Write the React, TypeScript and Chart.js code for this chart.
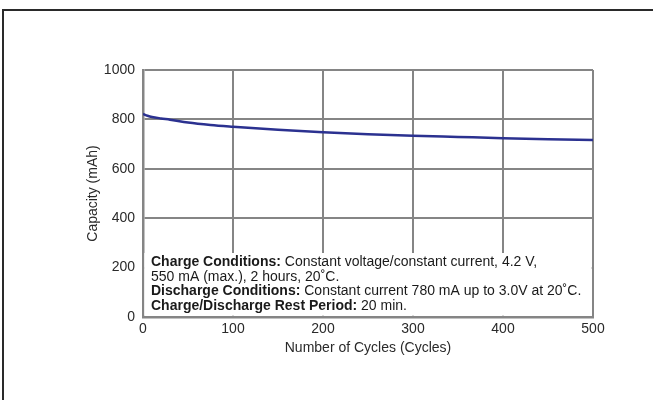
import React, { useEffect, useRef } from "react";
import { Chart, registerables } from "chart.js";

Chart.register(...registerables);

const cycles = [0, 5, 10, 20, 30, 50, 75, 100, 150, 200, 250, 300, 350, 400, 450, 500];
const capacity = [822, 815, 810, 804, 799, 787, 777, 770, 758, 748, 740, 734, 729, 724, 720, 717];
const yTicks = [0, 200, 400, 600, 800, 1000];
const xTicks = [0, 100, 200, 300, 400, 500];

const noteLines: { bold: string; normal: string }[] = [
  { bold: "Charge Conditions:", normal: " Constant voltage/constant current, 4.2 V," },
  { bold: "", normal: "550 mA (max.), 2 hours, 20˚C." },
  { bold: "Discharge Conditions:", normal: " Constant current 780 mA up to 3.0V at 20˚C." },
  { bold: "Charge/Discharge Rest Period:", normal: " 20 min." },
];

const FONT = "'Liberation Sans', Arial, Helvetica, sans-serif";

const framePlugin = {
  id: "framePlugin",
  beforeDraw(chart: any) {
    const ctx = chart.ctx;
    ctx.save();
    ctx.fillStyle = "#ffffff";
    ctx.fillRect(0, 0, chart.width, chart.height);
    ctx.strokeStyle = "#2a2a2a";
    ctx.lineWidth = 2;
    ctx.beginPath();
    ctx.moveTo(3, chart.height + 5);
    ctx.lineTo(3, 10);
    ctx.lineTo(chart.width + 5, 10);
    ctx.stroke();
    ctx.restore();
  },
  afterDatasetsDraw(chart: any) {
    const ctx = chart.ctx;
    const a = chart.chartArea;
    ctx.save();
    ctx.fillStyle = "#ffffff";
    ctx.fillRect(a.left + 1.3, a.bottom - 64, a.right - a.left - 2.6, 62.7);
    const x0 = a.left + 8;
    let y = a.bottom - 51;
    ctx.fillStyle = "#1a1a1a";
    ctx.textBaseline = "alphabetic";
    ctx.textAlign = "left";
    for (const ln of noteLines) {
      let x = x0;
      if (ln.bold) {
        ctx.font = `bold 14px ${FONT}`;
        ctx.fillText(ln.bold, x, y);
        x += ctx.measureText(ln.bold).width;
      }
      ctx.font = `14px ${FONT}`;
      ctx.fillText(ln.normal, x, y);
      y += 14.5;
    }
    ctx.restore();
  },
};

export default function App() {
  const ref = useRef<HTMLCanvasElement | null>(null);
  useEffect(() => {
    if (!ref.current) return;
    const chart = new Chart(ref.current, {
      type: "line",
      data: {
        datasets: [
          {
            data: cycles.map((c, i) => ({ x: c, y: capacity[i] })),
            borderColor: "#2b3190",
            borderWidth: 2.5,
            pointRadius: 0,
            cubicInterpolationMode: "monotone",
            fill: false,
          },
        ],
      },
      options: {
        animation: false,
        responsive: false,
        devicePixelRatio: 1,
        layout: { padding: { left: 85, top: 70, right: 60, bottom: 43 } },
        plugins: { legend: { display: false }, tooltip: { enabled: false } },
        scales: {
          x: {
            type: "linear",
            min: 0,
            max: 500,
            afterFit(scale: any) {
              scale.height = 40;
            },
            afterBuildTicks(scale: any) {
              scale.ticks = xTicks.map((v) => ({ value: v }));
            },
            grid: { color: "#858585", lineWidth: 2, drawTicks: false },
            border: { color: "#858585", width: 2.5 },
            ticks: {
              color: "#2a2a2a",
              padding: 4,
              font: { family: FONT, size: 14 },
              maxRotation: 0,
              callback: (v: any) => String(v),
            },
            title: {
              display: true,
              text: "Number of Cycles (Cycles)",
              color: "#2a2a2a",
              font: { family: FONT, size: 14 },
              padding: 0,
            },
          },
          y: {
            type: "linear",
            min: 0,
            max: 1000,
            afterFit(scale: any) {
              scale.width = 58;
            },
            afterBuildTicks(scale: any) {
              scale.ticks = yTicks.map((v) => ({ value: v }));
            },
            grid: { color: "#858585", lineWidth: 2, drawTicks: false },
            border: { color: "#858585", width: 2.5 },
            ticks: {
              color: "#2a2a2a",
              padding: 8,
              font: { family: FONT, size: 14 },
              callback: (v: any) => String(v),
            },
            title: {
              display: true,
              text: "Capacity (mAh)",
              color: "#2a2a2a",
              font: { family: FONT, size: 14 },
              padding: 0,
            },
          },
        },
      },
      plugins: [framePlugin],
    } as any);
    return () => chart.destroy();
  }, []);
  return (
    <div style={{ position: "fixed", left: 0, top: 0, width: 653, height: 400, overflow: "hidden", background: "#fff" }}>
      <canvas ref={ref} width={653} height={400} style={{ display: "block", width: 653, height: 400 }} />
    </div>
  );
}
